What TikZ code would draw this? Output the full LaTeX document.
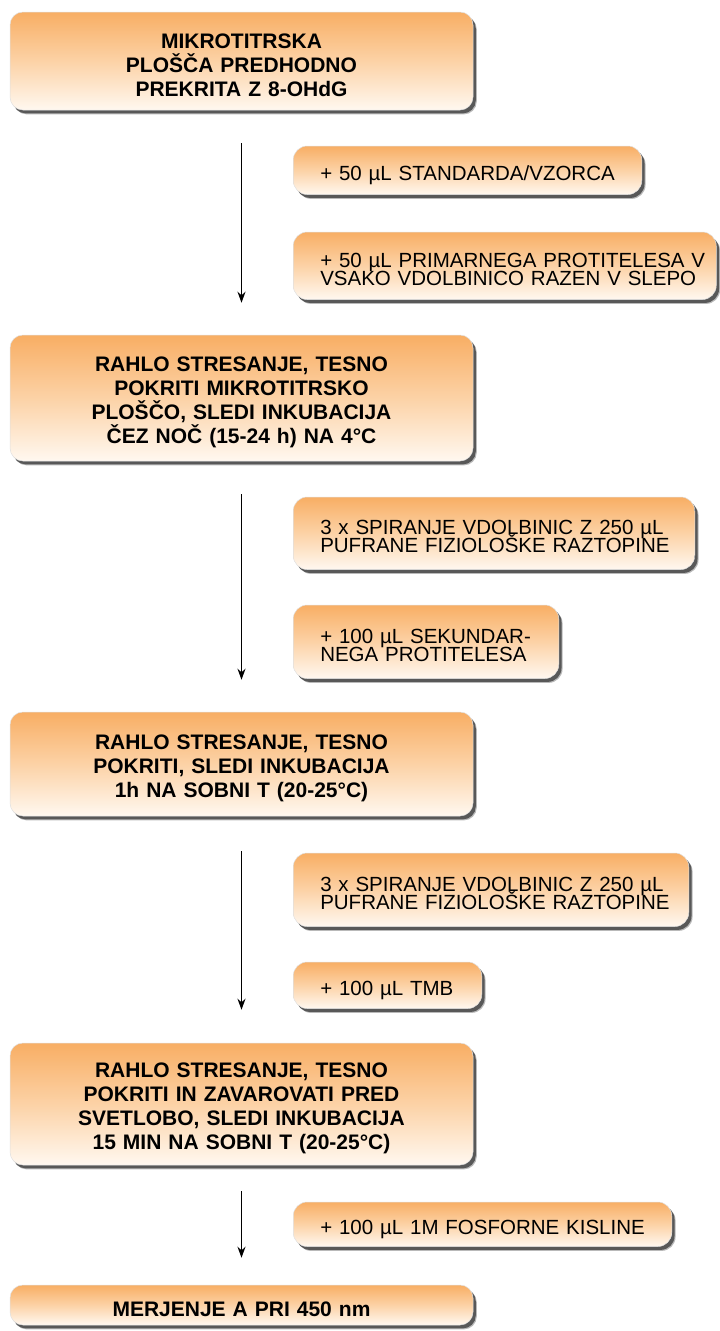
\documentclass[tikz,border=0pt]{standalone}
\usepackage{fontspec}
\setmainfont{Liberation Sans}
\usetikzlibrary{shadows,arrows.meta}

\definecolor{boxtop}{RGB}{248,174,100}
\definecolor{boxmid}{RGB}{252,210,166}
\definecolor{boxbot}{RGB}{255,248,240}
\definecolor{shadowcore}{RGB}{88,88,88}
\definecolor{shadowhalo}{RGB}{185,185,185}

% fixed baseline distance, whatever the glyph heights
\newcommand\fixedlines{\lineskiplimit=-100pt\relax\lineskip=0pt\relax}

\tikzset{
  panel/.style={rectangle, rounded corners=13pt,
    top color=boxtop, bottom color=boxbot, middle color=boxmid,
    draw=black!12, line width=0.5pt,
    drop shadow={shadow xshift=3.8pt, shadow yshift=-4.4pt, fill=shadowhalo, opacity=1},
    drop shadow={shadow xshift=2.8pt, shadow yshift=-3.4pt, fill=shadowcore, opacity=1}},
  mainbox/.style={panel, minimum width=463pt, text width=463pt, inner sep=0pt,
    align=center, text height=23pt,
    font=\bfseries\fontsize{21}{23.8}\selectfont,
    execute at begin node={\fixedlines}},
  sidebox/.style={panel, rounded corners=14pt, anchor=west, inner sep=0pt,
    align=left, font=\fontsize{20.5}{18.3}\selectfont,
    execute at begin node={\fixedlines}},
  sideone/.style={sidebox, text height=25pt},
  sidetwo/.style={sidebox, text height=21pt},
  flow/.style={-{Stealth[length=11pt,width=8pt]}, line width=1.5pt, black}
}

\begin{document}
\begin{tikzpicture}[x=1pt, y=-1pt]
\useasboundingbox (0,0) rectangle (720,1331);

% main steps
\node[mainbox, minimum height=98pt]  (b1) at (241.5,61)  {MIKROTITRSKA\\PLOŠČA PREDHODNO\\PREKRITA Z 8-OHdG};
\node[mainbox, minimum height=126pt] (b2) at (241.5,398) {RAHLO STRESANJE, TESNO\\POKRITI MIKROTITRSKO\\PLOŠČO, SLEDI INKUBACIJA\\ČEZ NOČ (15-24 h) NA 4°C};
\node[mainbox, minimum height=104pt] (b3) at (241.5,764) {RAHLO STRESANJE, TESNO\\POKRITI, SLEDI INKUBACIJA\\1h NA SOBNI T (20-25°C)};
\node[mainbox, minimum height=122pt] (b4) at (241.5,1104) {RAHLO STRESANJE, TESNO\\POKRITI IN ZAVAROVATI PRED\\SVETLOBO, SLEDI INKUBACIJA\\15 MIN NA SOBNI T (20-25°C)};
\node[mainbox, minimum height=40pt]  (b5) at (241.5,1305) {MERJENJE A PRI 450 nm};

% additions beside the arrows
\node[sideone, minimum width=348.5pt, text width=294.5pt, minimum height=48.5pt] (sa) at (293,170.25) {\mbox{+ 50 µL STANDARDA/VZORCA}};
\node[sidetwo, minimum width=423pt, text width=369pt, minimum height=67.5pt] (sb) at (293,265.75) {\mbox{+ 50 µL PRIMARNEGA PROTITELESA V}\\\mbox{VSAKO VDOLBINICO RAZEN V SLEPO}};
\node[sidetwo, minimum width=401.5pt, text width=347.5pt, minimum height=72.5pt] (sc) at (293,533.25) {\mbox{3 x SPIRANJE VDOLBINIC Z 250 µL}\\\mbox{PUFRANE FIZIOLOŠKE RAZTOPINE}};
\node[sidetwo, minimum width=265.5pt, text width=211.5pt, minimum height=73.5pt] (sd) at (293,641.75) {\mbox{+ 100 µL SEKUNDAR-}\\\mbox{NEGA PROTITELESA}};
\node[sidetwo, minimum width=395.5pt, text width=341.5pt, minimum height=73.5pt] (se) at (293,889.75) {\mbox{3 x SPIRANJE VDOLBINIC Z 250 µL}\\\mbox{PUFRANE FIZIOLOŠKE RAZTOPINE}};
\node[sideone, minimum width=188.5pt, text width=134.5pt, minimum height=46.5pt] (sf) at (293,985.25) {\mbox{+ 100 µL TMB}};
\node[sideone, minimum width=378.5pt, text width=324.5pt, minimum height=44.5pt] (sg) at (293,1224.25) {\mbox{+ 100 µL 1M FOSFORNE KISLINE}};

% flow arrows
\draw[flow, shorten <=33pt, shorten >=32pt] (b1) -- (b2);
\draw[flow, shorten <=33pt, shorten >=32pt] (b2) -- (b3);
\draw[flow, shorten <=35pt, shorten >=33pt] (b3) -- (b4);
\draw[flow, shorten <=26pt, shorten >=27pt] (b4) -- (b5);
\end{tikzpicture}
\end{document}
